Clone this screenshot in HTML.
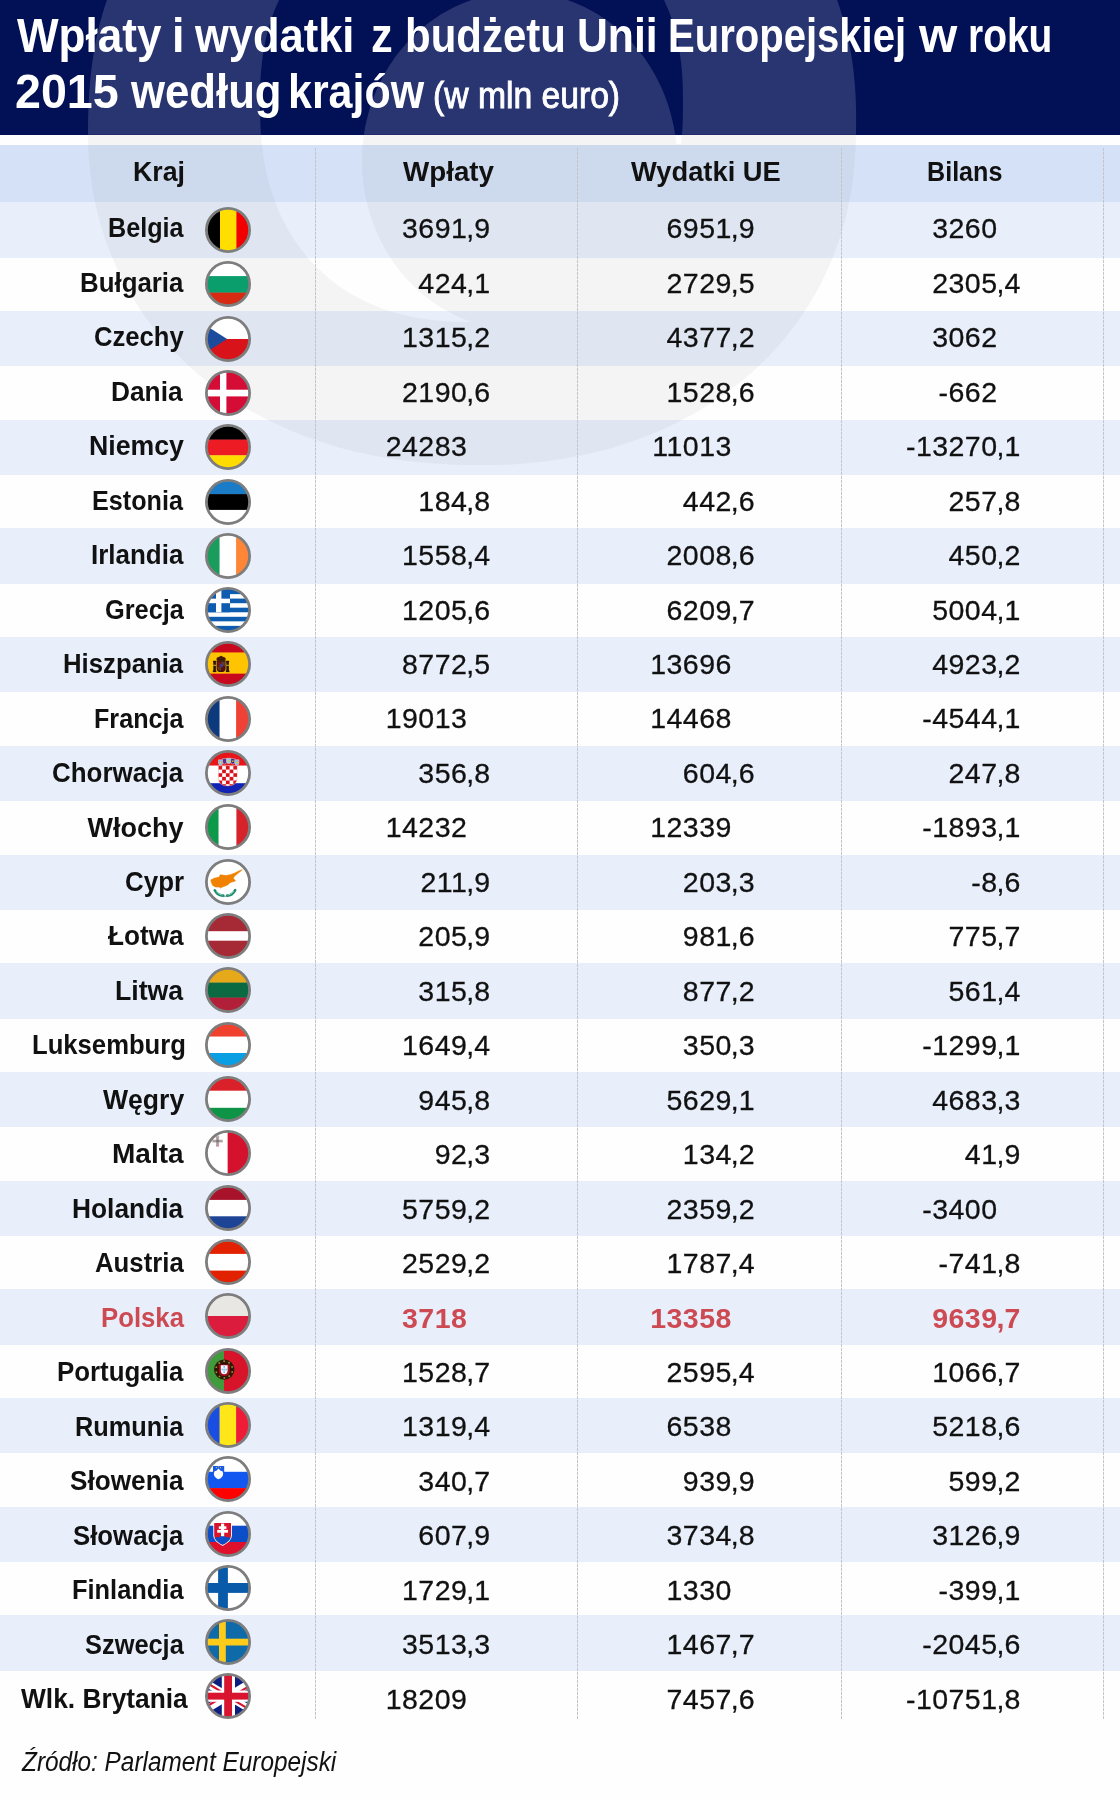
<!DOCTYPE html><html lang="pl"><head><meta charset="utf-8"><title>Wpłaty i wydatki z budżetu UE 2015</title><style>
html,body{margin:0;padding:0;}
body{width:1120px;height:1799px;position:relative;overflow:hidden;background:#fefefe;font-family:"Liberation Sans",sans-serif;color:#111;}
.abs{position:absolute;}
#hdr{left:0;top:0;width:1120px;height:134.7px;background:#021056;}
.t{position:absolute;white-space:nowrap;line-height:1;}
.title{color:#fff;font-weight:700;font-size:44px;left:18px;transform-origin:0 50%;}
.th{font-weight:700;font-size:26.5px;transform-origin:0 50%;}
.nm{font-weight:700;font-size:27px;transform-origin:100% 50%;text-align:right;}
.num{font-size:28.5px;letter-spacing:0.45px;-webkit-text-stroke:0.3px #111;}
.num.pl{-webkit-text-stroke:0;}
.int{text-align:right;transform-origin:100% 50%;}
.dec{text-align:left;letter-spacing:0;margin-left:-0.5px;}
.pl{color:#cd4a53;font-weight:700;}
.row{position:absolute;left:0;width:1120px;}
.vl{position:absolute;width:1px;top:148px;height:1571px;background:repeating-linear-gradient(to bottom,#c4c6cc 0,#c4c6cc 3px,rgba(196,198,204,0.15) 3px,rgba(196,198,204,0.15) 4px);}
.flag{position:absolute;width:46px;height:46px;}
</style></head><body>
<div id="hdr" class="abs"></div>
<div class="row" style="top:144.5px;height:57.8px;background:#d5e1f7"></div>
<div class="row" style="top:202.30px;height:55.40px;background:#e8effb"></div>
<div class="row" style="top:311.00px;height:55.40px;background:#e8effb"></div>
<div class="row" style="top:419.70px;height:55.40px;background:#e8effb"></div>
<div class="row" style="top:528.40px;height:55.40px;background:#e8effb"></div>
<div class="row" style="top:637.10px;height:55.40px;background:#e8effb"></div>
<div class="row" style="top:745.80px;height:55.40px;background:#e8effb"></div>
<div class="row" style="top:854.50px;height:55.40px;background:#e8effb"></div>
<div class="row" style="top:963.20px;height:55.40px;background:#e8effb"></div>
<div class="row" style="top:1071.90px;height:55.40px;background:#e8effb"></div>
<div class="row" style="top:1180.60px;height:55.40px;background:#e8effb"></div>
<div class="row" style="top:1289.30px;height:55.40px;background:#e8effb"></div>
<div class="row" style="top:1398.00px;height:55.40px;background:#e8effb"></div>
<div class="row" style="top:1506.70px;height:55.40px;background:#e8effb"></div>
<div class="row" style="top:1615.40px;height:55.40px;background:#e8effb"></div>
<svg class="abs" style="left:0;top:0" width="1120" height="500" viewBox="0 0 1120 500">
<defs><clipPath id="ch"><rect x="0" y="0" width="1120" height="134.7"/></clipPath><clipPath id="ct"><rect x="0" y="134.7" width="1120" height="370"/></clipPath>
<path id="wm" fill-rule="evenodd" d="M855.9,138.0 L855.5,149.4 L854.8,159.6 L853.9,169.5 L852.8,179.2 L851.5,188.6 L849.9,197.9 L848.1,207.0 L846.0,215.9 L843.7,224.8 L841.2,233.5 L838.4,242.1 L835.4,250.5 L832.2,258.9 L828.7,267.1 L825.0,275.1 L821.1,283.1 L817.0,290.9 L812.6,298.6 L808.0,306.1 L803.2,313.5 L798.2,320.8 L792.9,327.9 L787.5,334.9 L781.8,341.7 L776.0,348.4 L769.9,354.9 L763.7,361.2 L757.2,367.4 L750.6,373.4 L743.7,379.3 L736.7,385.0 L729.5,390.5 L722.1,395.8 L714.6,400.9 L706.9,405.9 L699.0,410.7 L690.9,415.3 L682.7,419.7 L674.3,423.9 L665.8,427.9 L657.1,431.8 L648.3,435.4 L639.3,438.8 L630.2,442.0 L620.9,445.1 L611.6,447.9 L602.0,450.5 L592.4,452.9 L582.6,455.1 L572.7,457.0 L562.7,458.8 L552.5,460.3 L542.2,461.7 L531.7,462.8 L521.1,463.7 L510.3,464.4 L499.2,464.9 L487.9,465.1 L476.2,465.1 L463.2,464.9 L450.3,464.4 L438.6,463.8 L427.3,463.0 L416.3,461.9 L405.6,460.7 L395.0,459.2 L384.6,457.6 L374.4,455.7 L364.3,453.6 L354.3,451.4 L344.5,448.9 L334.9,446.2 L325.4,443.3 L316.0,440.2 L306.8,436.9 L297.7,433.4 L288.8,429.7 L280.0,425.8 L271.4,421.7 L262.9,417.5 L254.6,413.0 L246.4,408.4 L238.5,403.5 L230.7,398.5 L223.0,393.3 L215.6,388.0 L208.3,382.4 L201.2,376.7 L194.3,370.9 L187.6,364.8 L181.1,358.6 L174.7,352.3 L168.6,345.7 L162.7,339.1 L157.0,332.3 L151.5,325.3 L146.2,318.2 L141.1,311.0 L136.2,303.6 L131.6,296.1 L127.2,288.4 L123.0,280.6 L119.0,272.7 L115.3,264.7 L111.8,256.6 L108.5,248.3 L105.5,240.0 L102.7,231.5 L100.1,222.9 L97.8,214.1 L95.7,205.3 L93.9,196.4 L92.3,187.3 L91.0,178.1 L89.9,168.8 L89.0,159.3 L88.4,149.6 L88.1,139.7 L88.0,129.4 L88.1,118.0 L88.6,103.9 L89.3,92.3 L90.1,81.4 L91.2,71.1 L92.5,61.1 L94.0,51.4 L95.7,42.0 L97.7,32.7 L99.8,23.7 L102.2,14.9 L104.8,6.3 L107.7,-2.2 L110.7,-10.5 L114.0,-18.6 L117.4,-26.6 L121.1,-34.4 L125.0,-42.1 L129.2,-49.6 L133.5,-56.9 L138.0,-64.1 L142.8,-71.1 L147.7,-78.0 L152.9,-84.7 L158.2,-91.3 L163.8,-97.7 L169.5,-103.9 L175.5,-110.0 L181.6,-115.9 L187.9,-121.6 L194.5,-127.1 L201.2,-132.5 L208.0,-137.7 L215.1,-142.8 L222.4,-147.6 L229.8,-152.3 L237.4,-156.8 L245.2,-161.1 L253.2,-165.3 L261.3,-169.2 L269.6,-173.0 L278.1,-176.6 L286.7,-179.9 L295.5,-183.1 L304.5,-186.1 L313.6,-188.9 L322.9,-191.5 L332.4,-194.0 L342.1,-196.2 L351.9,-198.2 L361.9,-200.0 L372.2,-201.6 L382.6,-203.1 L393.2,-204.3 L404.1,-205.3 L415.3,-206.1 L426.8,-206.7 L438.7,-207.1 L451.2,-207.3 L464.5,-207.2 L480.7,-206.9 L496.9,-206.4 L510.2,-205.7 L522.7,-204.9 L534.5,-203.9 L546.0,-202.7 L557.1,-201.3 L567.9,-199.7 L578.5,-198.0 L588.8,-196.0 L599.0,-193.9 L608.9,-191.5 L618.6,-189.0 L628.1,-186.3 L637.5,-183.4 L646.6,-180.3 L655.6,-177.0 L664.4,-173.5 L673.1,-169.9 L681.5,-166.1 L689.8,-162.0 L697.9,-157.9 L705.8,-153.5 L713.5,-149.0 L721.1,-144.2 L728.4,-139.3 L735.6,-134.3 L742.6,-129.1 L749.4,-123.7 L756.0,-118.1 L762.4,-112.4 L768.7,-106.5 L774.7,-100.4 L780.5,-94.2 L786.1,-87.9 L791.5,-81.3 L796.7,-74.7 L801.8,-67.8 L806.5,-60.9 L811.1,-53.7 L815.5,-46.5 L819.7,-39.1 L823.6,-31.5 L827.3,-23.8 L830.8,-15.9 L834.1,-7.9 L837.2,0.2 L840.0,8.5 L842.6,16.9 L845.0,25.5 L847.2,34.3 L849.1,43.2 L850.8,52.3 L852.3,61.6 L853.5,71.1 L854.5,80.9 L855.3,90.9 L855.8,101.3 L856.1,112.2 L856.1,123.9Z M683.0,105.0 L682.9,114.1 L682.7,121.7 L682.4,128.7 L682.0,135.5 L681.4,141.9 L680.7,148.2 L679.9,154.4 L679.0,160.4 L677.9,166.2 L676.7,172.0 L675.4,177.6 L674.0,183.2 L672.4,188.6 L670.7,193.9 L668.9,199.1 L667.0,204.3 L665.0,209.3 L662.8,214.2 L660.5,219.0 L658.1,223.8 L655.6,228.4 L653.0,232.9 L650.3,237.4 L647.4,241.7 L644.4,245.9 L641.4,250.1 L638.2,254.1 L634.9,258.0 L631.5,261.8 L628.0,265.5 L624.4,269.1 L620.6,272.6 L616.8,276.0 L612.9,279.3 L608.9,282.4 L604.7,285.5 L600.5,288.4 L596.2,291.2 L591.8,293.9 L587.3,296.5 L582.6,298.9 L577.9,301.3 L573.1,303.5 L568.2,305.6 L563.2,307.6 L558.2,309.4 L553.0,311.1 L547.7,312.7 L542.3,314.2 L536.8,315.6 L531.2,316.8 L525.5,317.9 L519.6,318.8 L513.6,319.7 L507.5,320.4 L501.2,321.0 L494.6,321.4 L487.8,321.7 L480.4,321.9 L471.5,322.0 L462.6,321.9 L455.2,321.7 L448.4,321.4 L441.8,321.0 L435.5,320.4 L429.4,319.7 L423.4,318.8 L417.5,317.9 L411.8,316.8 L406.2,315.6 L400.7,314.2 L395.3,312.7 L390.0,311.1 L384.8,309.4 L379.8,307.6 L374.8,305.6 L369.9,303.5 L365.1,301.3 L360.4,298.9 L355.7,296.5 L351.2,293.9 L346.8,291.2 L342.5,288.4 L338.3,285.5 L334.1,282.4 L330.1,279.3 L326.2,276.0 L322.4,272.6 L318.6,269.1 L315.0,265.5 L311.5,261.8 L308.1,258.0 L304.8,254.1 L301.6,250.1 L298.6,245.9 L295.6,241.7 L292.7,237.4 L290.0,232.9 L287.4,228.4 L284.9,223.8 L282.5,219.0 L280.2,214.2 L278.0,209.3 L276.0,204.3 L274.1,199.1 L272.3,193.9 L270.6,188.6 L269.0,183.2 L267.6,177.6 L266.3,172.0 L265.1,166.2 L264.0,160.4 L263.1,154.4 L262.3,148.2 L261.6,141.9 L261.0,135.5 L260.6,128.7 L260.3,121.7 L260.1,114.1 L260.0,105.0 L260.1,94.8 L260.2,87.0 L260.5,80.0 L260.9,73.3 L261.5,67.1 L262.1,61.0 L262.9,55.2 L263.8,49.5 L264.8,44.0 L265.9,38.6 L267.1,33.4 L268.5,28.3 L270.0,23.3 L271.5,18.5 L273.2,13.7 L275.0,9.0 L277.0,4.5 L279.0,0.0 L281.2,-4.3 L283.4,-8.6 L285.8,-12.7 L288.3,-16.8 L290.9,-20.7 L293.6,-24.6 L296.4,-28.4 L299.3,-32.0 L302.4,-35.6 L305.5,-39.1 L308.8,-42.4 L312.1,-45.7 L315.6,-48.9 L319.1,-52.0 L322.8,-54.9 L326.6,-57.8 L330.5,-60.6 L334.4,-63.2 L338.5,-65.8 L342.7,-68.2 L347.0,-70.6 L351.4,-72.8 L355.9,-75.0 L360.5,-77.0 L365.2,-78.9 L370.0,-80.8 L374.9,-82.5 L380.0,-84.1 L385.1,-85.6 L390.4,-87.0 L395.8,-88.3 L401.3,-89.4 L407.0,-90.5 L412.8,-91.4 L418.8,-92.3 L425.0,-93.0 L431.4,-93.6 L438.0,-94.1 L445.0,-94.5 L452.5,-94.8 L460.7,-94.9 L471.5,-95.0 L482.3,-94.9 L490.5,-94.8 L498.0,-94.5 L505.0,-94.1 L511.6,-93.6 L518.0,-93.0 L524.2,-92.3 L530.2,-91.4 L536.0,-90.5 L541.7,-89.4 L547.2,-88.3 L552.6,-87.0 L557.9,-85.6 L563.0,-84.1 L568.1,-82.5 L573.0,-80.8 L577.8,-78.9 L582.5,-77.0 L587.1,-75.0 L591.6,-72.8 L596.0,-70.6 L600.3,-68.2 L604.5,-65.8 L608.6,-63.2 L612.5,-60.6 L616.4,-57.8 L620.2,-54.9 L623.9,-52.0 L627.4,-48.9 L630.9,-45.7 L634.2,-42.4 L637.5,-39.1 L640.6,-35.6 L643.7,-32.0 L646.6,-28.4 L649.4,-24.6 L652.1,-20.7 L654.7,-16.8 L657.2,-12.7 L659.6,-8.6 L661.8,-4.3 L664.0,0.0 L666.0,4.5 L668.0,9.0 L669.8,13.7 L671.5,18.5 L673.0,23.3 L674.5,28.3 L675.9,33.4 L677.1,38.6 L678.2,44.0 L679.2,49.5 L680.1,55.2 L680.9,61.0 L681.5,67.1 L682.1,73.3 L682.5,80.0 L682.8,87.0 L682.9,94.8Z"/><path id="wd" d="M677.0,161.0 L676.9,165.4 L676.8,169.8 L676.5,174.3 L676.1,178.7 L675.7,183.1 L675.1,187.4 L674.4,191.8 L673.6,196.1 L672.6,200.5 L671.6,204.7 L670.5,209.0 L669.3,213.2 L668.0,217.4 L666.5,221.6 L665.0,225.7 L663.4,229.7 L661.7,233.8 L659.8,237.7 L657.9,241.6 L655.9,245.5 L653.8,249.3 L651.6,253.0 L649.3,256.7 L646.9,260.3 L644.5,263.9 L641.9,267.4 L639.3,270.8 L636.5,274.1 L633.7,277.3 L630.9,280.5 L627.9,283.6 L624.9,286.6 L621.8,289.5 L618.6,292.3 L615.4,295.1 L612.1,297.7 L608.7,300.3 L605.3,302.7 L601.8,305.1 L598.2,307.4 L594.7,309.5 L591.0,311.6 L587.3,313.5 L583.6,315.4 L579.8,317.1 L575.9,318.8 L572.1,320.3 L568.2,321.7 L564.2,323.0 L560.3,324.2 L556.3,325.3 L552.2,326.3 L548.2,327.2 L544.1,327.9 L540.1,328.6 L536.0,329.1 L531.9,329.5 L527.7,329.8 L523.6,329.9 L519.5,330.0 L515.4,329.9 L511.3,329.8 L507.1,329.5 L503.0,329.1 L498.9,328.6 L494.9,327.9 L490.8,327.2 L486.8,326.3 L482.7,325.3 L478.7,324.2 L474.8,323.0 L470.8,321.7 L466.9,320.3 L463.1,318.8 L459.2,317.1 L455.4,315.4 L451.7,313.5 L448.0,311.6 L444.3,309.5 L440.8,307.4 L437.2,305.1 L433.7,302.7 L430.3,300.3 L426.9,297.7 L423.6,295.1 L420.4,292.3 L417.2,289.5 L414.1,286.6 L411.1,283.6 L408.1,280.5 L405.3,277.3 L402.5,274.1 L399.7,270.8 L397.1,267.4 L394.5,263.9 L392.1,260.3 L389.7,256.7 L387.4,253.0 L385.2,249.3 L383.1,245.5 L381.1,241.6 L379.2,237.7 L377.3,233.8 L375.6,229.7 L374.0,225.7 L372.5,221.6 L371.0,217.4 L369.7,213.2 L368.5,209.0 L367.4,204.7 L366.4,200.5 L365.4,196.1 L364.6,191.8 L363.9,187.4 L363.3,183.1 L362.9,178.7 L362.5,174.3 L362.2,169.8 L362.1,165.4 L362.0,161.0 L362.1,156.6 L362.2,152.2 L362.5,147.7 L362.9,143.3 L363.3,138.9 L363.9,134.6 L364.6,130.2 L365.4,125.9 L366.4,121.5 L367.4,117.3 L368.5,113.0 L369.7,108.8 L371.0,104.6 L372.5,100.4 L374.0,96.3 L375.6,92.3 L377.3,88.2 L379.2,84.3 L381.1,80.4 L383.1,76.5 L385.2,72.7 L387.4,69.0 L389.7,65.3 L392.1,61.7 L394.5,58.1 L397.1,54.6 L399.7,51.2 L402.5,47.9 L405.3,44.7 L408.1,41.5 L411.1,38.4 L414.1,35.4 L417.2,32.5 L420.4,29.7 L423.6,26.9 L426.9,24.3 L430.3,21.7 L433.7,19.3 L437.2,16.9 L440.7,14.6 L444.3,12.5 L448.0,10.4 L451.7,8.5 L455.4,6.6 L459.2,4.9 L463.1,3.2 L466.9,1.7 L470.8,0.3 L474.8,-1.0 L478.7,-2.2 L482.7,-3.3 L486.8,-4.3 L490.8,-5.2 L494.9,-5.9 L498.9,-6.6 L503.0,-7.1 L507.1,-7.5 L511.3,-7.8 L515.4,-7.9 L519.5,-8.0 L523.6,-7.9 L527.7,-7.8 L531.9,-7.5 L536.0,-7.1 L540.1,-6.6 L544.1,-5.9 L548.2,-5.2 L552.2,-4.3 L556.3,-3.3 L560.3,-2.2 L564.2,-1.0 L568.2,0.3 L572.1,1.7 L575.9,3.2 L579.8,4.9 L583.6,6.6 L587.3,8.5 L591.0,10.4 L594.7,12.5 L598.2,14.6 L601.8,16.9 L605.3,19.3 L608.7,21.7 L612.1,24.3 L615.4,26.9 L618.6,29.7 L621.8,32.5 L624.9,35.4 L627.9,38.4 L630.9,41.5 L633.7,44.7 L636.5,47.9 L639.3,51.2 L641.9,54.6 L644.5,58.1 L646.9,61.7 L649.3,65.3 L651.6,69.0 L653.8,72.7 L655.9,76.5 L657.9,80.4 L659.8,84.3 L661.7,88.2 L663.4,92.3 L665.0,96.3 L666.5,100.4 L668.0,104.6 L669.3,108.8 L670.5,113.0 L671.6,117.3 L672.6,121.5 L673.6,125.9 L674.4,130.2 L675.1,134.6 L675.7,138.9 L676.1,143.3 L676.5,147.7 L676.8,152.2 L676.9,156.6Z"/>
<mask id="mk"><rect width="1120" height="500" fill="#000"/><use href="#wm" fill="#fff"/><use href="#wd" fill="#fff"/></mask>
<mask id="mk2"><rect width="1120" height="500" fill="#000"/><use href="#wm" fill="#fff"/><use href="#wd" fill="#fff"/><rect x="650" y="144" width="60" height="150" fill="#fff"/></mask></defs>
<g clip-path="url(#ch)"><rect width="1120" height="500" fill="#fff" fill-opacity="0.158" mask="url(#mk)"/></g>
<g clip-path="url(#ct)"><rect width="1120" height="500" fill="#707070" fill-opacity="0.065" mask="url(#mk2)"/></g>
</svg>
<div class="vl" style="left:315px"></div>
<div class="vl" style="left:577px"></div>
<div class="vl" style="left:840.5px"></div>
<div class="vl" style="left:1103px"></div>
<div id="txt" style="position:absolute;left:0;top:0;width:1120px;height:1799px;will-change:transform">
<div class="t" style="left:16.80px;top:10.85px;font-size:49px;font-weight:700;color:#fff;transform-origin:0 50%;transform:scaleX(0.8994)">Wpłaty</div>
<div class="t" style="left:172.26px;top:10.85px;font-size:49px;font-weight:700;color:#fff;transform-origin:0 50%;transform:scaleX(0.9143)">i</div>
<div class="t" style="left:194.60px;top:10.85px;font-size:49px;font-weight:700;color:#fff;transform-origin:0 50%;transform:scaleX(0.8869)">wydatki</div>
<div class="t" style="left:371.43px;top:10.85px;font-size:49px;font-weight:700;color:#fff;transform-origin:0 50%;transform:scaleX(0.8857)">z</div>
<div class="t" style="left:405.33px;top:10.85px;font-size:49px;font-weight:700;color:#fff;transform-origin:0 50%;transform:scaleX(0.8564)">budżetu</div>
<div class="t" style="left:576.68px;top:10.85px;font-size:49px;font-weight:700;color:#fff;transform-origin:0 50%;transform:scaleX(0.8721)">Unii</div>
<div class="t" style="left:667.55px;top:10.85px;font-size:49px;font-weight:700;color:#fff;transform-origin:0 50%;transform:scaleX(0.8172)">Europejskiej</div>
<div class="t" style="left:918.90px;top:10.85px;font-size:49px;font-weight:700;color:#fff;transform-origin:0 50%;transform:scaleX(1.0053)">w</div>
<div class="t" style="left:968.32px;top:10.85px;font-size:49px;font-weight:700;color:#fff;transform-origin:0 50%;transform:scaleX(0.7950)">roku</div>
<div class="t" style="left:15.20px;top:67.35px;font-size:49px;font-weight:700;color:#fff;transform-origin:0 50%;transform:scaleX(0.9509)">2015</div>
<div class="t" style="left:131.40px;top:67.35px;font-size:49px;font-weight:700;color:#fff;transform-origin:0 50%;transform:scaleX(0.8921)">według</div>
<div class="t" style="left:288.37px;top:67.35px;font-size:49px;font-weight:700;color:#fff;transform-origin:0 50%;transform:scaleX(0.8770)">krajów</div>
<div class="t" style="left:433.13px;top:78.40px;font-size:36px;color:#fff;-webkit-text-stroke:0.9px #fff;transform-origin:0 50%;transform:scaleX(0.9352)">(w mln euro)</div>
<div class="t" style="left:132.92px;top:158.55px;font-size:27px;font-weight:700;transform-origin:0 50%;transform:scaleX(0.9898)">Kraj</div>
<div class="t" style="left:403.10px;top:158.55px;font-size:27px;font-weight:700;transform-origin:0 50%;transform:scaleX(1.0284)">Wpłaty</div>
<div class="t" style="left:631.00px;top:158.55px;font-size:27px;font-weight:700;transform-origin:0 50%;transform:scaleX(1.0116)">Wydatki UE</div>
<div class="t" style="left:926.54px;top:158.55px;font-size:27px;font-weight:700;transform-origin:0 50%;transform:scaleX(0.9308)">Bilans</div>
<div class="t" style="left:107.93px;top:215.25px;font-size:27px;font-weight:700;transform-origin:0 50%;transform:scaleX(0.9329)">Belgia</div>
<div class="t" style="left:80.08px;top:269.73px;font-size:27px;font-weight:700;transform-origin:0 50%;transform:scaleX(0.9575)">Bułgaria</div>
<div class="t" style="left:94.35px;top:324.21px;font-size:27px;font-weight:700;transform-origin:0 50%;transform:scaleX(0.9484)">Czechy</div>
<div class="t" style="left:111.45px;top:378.69px;font-size:27px;font-weight:700;transform-origin:0 50%;transform:scaleX(0.9736)">Dania</div>
<div class="t" style="left:88.62px;top:433.17px;font-size:27px;font-weight:700;transform-origin:0 50%;transform:scaleX(0.9883)">Niemcy</div>
<div class="t" style="left:92.14px;top:487.65px;font-size:27px;font-weight:700;transform-origin:0 50%;transform:scaleX(0.9323)">Estonia</div>
<div class="t" style="left:91.18px;top:542.13px;font-size:27px;font-weight:700;transform-origin:0 50%;transform:scaleX(0.9617)">Irlandia</div>
<div class="t" style="left:104.66px;top:596.61px;font-size:27px;font-weight:700;transform-origin:0 50%;transform:scaleX(0.9386)">Grecja</div>
<div class="t" style="left:63.39px;top:651.09px;font-size:27px;font-weight:700;transform-origin:0 50%;transform:scaleX(0.9532)">Hiszpania</div>
<div class="t" style="left:94.04px;top:705.57px;font-size:27px;font-weight:700;transform-origin:0 50%;transform:scaleX(0.9319)">Francja</div>
<div class="t" style="left:51.84px;top:760.05px;font-size:27px;font-weight:700;transform-origin:0 50%;transform:scaleX(0.9610)">Chorwacja</div>
<div class="t" style="left:87.50px;top:814.53px;font-size:27px;font-weight:700;transform-origin:0 50%;transform:scaleX(1.0000)">Włochy</div>
<div class="t" style="left:124.94px;top:869.01px;font-size:27px;font-weight:700;transform-origin:0 50%;transform:scaleX(0.9600)">Cypr</div>
<div class="t" style="left:107.80px;top:923.49px;font-size:27px;font-weight:700;transform-origin:0 50%;transform:scaleX(0.9705)">Łotwa</div>
<div class="t" style="left:115.32px;top:977.97px;font-size:27px;font-weight:700;transform-origin:0 50%;transform:scaleX(0.9881)">Litwa</div>
<div class="t" style="left:31.50px;top:1032.45px;font-size:27px;font-weight:700;transform-origin:0 50%;transform:scaleX(0.9500)">Luksemburg</div>
<div class="t" style="left:102.80px;top:1086.93px;font-size:27px;font-weight:700;transform-origin:0 50%;transform:scaleX(0.9841)">Węgry</div>
<div class="t" style="left:111.93px;top:1141.41px;font-size:27px;font-weight:700;transform-origin:0 50%;transform:scaleX(1.0373)">Malta</div>
<div class="t" style="left:72.35px;top:1195.89px;font-size:27px;font-weight:700;transform-origin:0 50%;transform:scaleX(0.9750)">Holandia</div>
<div class="t" style="left:94.75px;top:1250.37px;font-size:27px;font-weight:700;transform-origin:0 50%;transform:scaleX(0.9543)">Austria</div>
<div class="t" style="left:100.59px;top:1304.85px;font-size:27px;font-weight:700;color:#cd4a53;transform-origin:0 50%;transform:scaleX(0.9529)">Polska</div>
<div class="t" style="left:57.08px;top:1359.33px;font-size:27px;font-weight:700;transform-origin:0 50%;transform:scaleX(0.9577)">Portugalia</div>
<div class="t" style="left:74.62px;top:1413.81px;font-size:27px;font-weight:700;transform-origin:0 50%;transform:scaleX(0.9386)">Rumunia</div>
<div class="t" style="left:70.03px;top:1468.29px;font-size:27px;font-weight:700;transform-origin:0 50%;transform:scaleX(0.9698)">Słowenia</div>
<div class="t" style="left:72.75px;top:1522.77px;font-size:27px;font-weight:700;transform-origin:0 50%;transform:scaleX(0.9548)">Słowacja</div>
<div class="t" style="left:71.52px;top:1577.25px;font-size:27px;font-weight:700;transform-origin:0 50%;transform:scaleX(0.9410)">Finlandia</div>
<div class="t" style="left:84.76px;top:1631.73px;font-size:27px;font-weight:700;transform-origin:0 50%;transform:scaleX(0.9404)">Szwecja</div>
<div class="t" style="left:20.50px;top:1686.21px;font-size:27px;font-weight:700;transform-origin:0 50%;transform:scaleX(0.9749)">Wlk. Brytania</div>
<div class="t" style="left:22.00px;top:1748.55px;font-size:27px;font-style:italic;transform-origin:0 50%;transform:scaleX(0.9026)">Źródło: Parlament Europejski</div>
<div class="flag" style="left:205px;top:206.9px"><svg width="46" height="46" viewBox="0 0 46 46"><defs><clipPath id="c1"><circle cx="23" cy="23" r="21"/></clipPath></defs><g clip-path="url(#c1)"><rect y="0" x="0" height="46" width="15.30" fill="#000"/><rect y="0" x="15" height="46" width="16.70" fill="#ffde00"/><rect y="0" x="31.4" height="46" width="14.90" fill="#f20000"/></g><circle cx="23" cy="23" r="21.6" fill="none" stroke="#7d7d7d" stroke-width="2.8"/></svg></div>
<div class="t num int" style="right:652.75px;top:214.3px">3691</div>
<div class="t num dec" style="left:466.8px;top:214.3px">,9</div>
<div class="t num int" style="right:388.25px;top:214.3px">6951</div>
<div class="t num dec" style="left:731.3px;top:214.3px">,9</div>
<div class="t num int" style="right:122.55px;top:214.3px">3260</div>
<div class="flag" style="left:205px;top:261.2px"><svg width="46" height="46" viewBox="0 0 46 46"><defs><clipPath id="c2"><circle cx="23" cy="23" r="21"/></clipPath></defs><g clip-path="url(#c2)"><rect x="0" y="0" width="46" height="15.40" fill="#fff"/><rect x="0" y="15.1" width="46" height="16.80" fill="#0a9e6c"/><rect x="0" y="31.6" width="46" height="14.70" fill="#d62a12"/></g><circle cx="23" cy="23" r="21.6" fill="none" stroke="#7d7d7d" stroke-width="2.8"/></svg></div>
<div class="t num int" style="right:652.75px;top:268.7px">424</div>
<div class="t num dec" style="left:466.8px;top:268.7px">,1</div>
<div class="t num int" style="right:388.25px;top:268.7px">2729</div>
<div class="t num dec" style="left:731.3px;top:268.7px">,5</div>
<div class="t num int" style="right:122.55px;top:268.7px">2305</div>
<div class="t num dec" style="left:997.0px;top:268.7px">,4</div>
<div class="flag" style="left:205px;top:315.5px"><svg width="46" height="46" viewBox="0 0 46 46"><defs><clipPath id="c3"><circle cx="23" cy="23" r="21"/></clipPath></defs><g clip-path="url(#c3)"><rect x="0" y="0" width="46" height="23.30" fill="#fff"/><rect x="0" y="23" width="46" height="23.30" fill="#d8141a"/><polygon points="0,9 22.1,23 0,37" fill="#1c4a9c"/></g><circle cx="23" cy="23" r="21.6" fill="none" stroke="#7d7d7d" stroke-width="2.8"/></svg></div>
<div class="t num int" style="right:652.75px;top:323.2px">1315</div>
<div class="t num dec" style="left:466.8px;top:323.2px">,2</div>
<div class="t num int" style="right:388.25px;top:323.2px">4377</div>
<div class="t num dec" style="left:731.3px;top:323.2px">,2</div>
<div class="t num int" style="right:122.55px;top:323.2px">3062</div>
<div class="flag" style="left:205px;top:369.8px"><svg width="46" height="46" viewBox="0 0 46 46"><defs><clipPath id="c4"><circle cx="23" cy="23" r="21"/></clipPath></defs><g clip-path="url(#c4)"><rect width="46" height="46" fill="#d50c35"/><rect x="15" y="0" width="6.4" height="46" fill="#fff"/><rect x="0" y="19.7" width="46" height="6.7" fill="#fff"/></g><circle cx="23" cy="23" r="21.6" fill="none" stroke="#7d7d7d" stroke-width="2.8"/></svg></div>
<div class="t num int" style="right:652.75px;top:377.7px">2190</div>
<div class="t num dec" style="left:466.8px;top:377.7px">,6</div>
<div class="t num int" style="right:388.25px;top:377.7px">1528</div>
<div class="t num dec" style="left:731.3px;top:377.7px">,6</div>
<div class="t num int" style="right:122.55px;top:377.7px">-662</div>
<div class="flag" style="left:205px;top:424.2px"><svg width="46" height="46" viewBox="0 0 46 46"><defs><clipPath id="c5"><circle cx="23" cy="23" r="21"/></clipPath></defs><g clip-path="url(#c5)"><rect x="0" y="0" width="46" height="15.90" fill="#000"/><rect x="0" y="15.6" width="46" height="16.00" fill="#ed1c24"/><rect x="0" y="31.3" width="46" height="15.00" fill="#ffdc00"/></g><circle cx="23" cy="23" r="21.6" fill="none" stroke="#7d7d7d" stroke-width="2.8"/></svg></div>
<div class="t num int" style="right:652.75px;top:432.1px">24283</div>
<div class="t num int" style="right:388.25px;top:432.1px">11013</div>
<div class="t num int" style="right:122.55px;top:432.1px">-13270</div>
<div class="t num dec" style="left:997.0px;top:432.1px">,1</div>
<div class="flag" style="left:205px;top:478.5px"><svg width="46" height="46" viewBox="0 0 46 46"><defs><clipPath id="c6"><circle cx="23" cy="23" r="21"/></clipPath></defs><g clip-path="url(#c6)"><rect x="0" y="0" width="46" height="15.40" fill="#1a7cc6"/><rect x="0" y="15.1" width="46" height="16.10" fill="#000"/><rect x="0" y="30.9" width="46" height="15.40" fill="#fff"/></g><circle cx="23" cy="23" r="21.6" fill="none" stroke="#7d7d7d" stroke-width="2.8"/></svg></div>
<div class="t num int" style="right:652.75px;top:486.6px">184</div>
<div class="t num dec" style="left:466.8px;top:486.6px">,8</div>
<div class="t num int" style="right:388.25px;top:486.6px">442</div>
<div class="t num dec" style="left:731.3px;top:486.6px">,6</div>
<div class="t num int" style="right:122.55px;top:486.6px">257</div>
<div class="t num dec" style="left:997.0px;top:486.6px">,8</div>
<div class="flag" style="left:205px;top:532.8px"><svg width="46" height="46" viewBox="0 0 46 46"><defs><clipPath id="c7"><circle cx="23" cy="23" r="21"/></clipPath></defs><g clip-path="url(#c7)"><rect y="0" x="0" height="46" width="14.90" fill="#1a9d5c"/><rect y="0" x="14.6" height="46" width="16.80" fill="#fff"/><rect y="0" x="31.1" height="46" width="15.20" fill="#ff8636"/></g><circle cx="23" cy="23" r="21.6" fill="none" stroke="#7d7d7d" stroke-width="2.8"/></svg></div>
<div class="t num int" style="right:652.75px;top:541.0px">1558</div>
<div class="t num dec" style="left:466.8px;top:541.0px">,4</div>
<div class="t num int" style="right:388.25px;top:541.0px">2008</div>
<div class="t num dec" style="left:731.3px;top:541.0px">,6</div>
<div class="t num int" style="right:122.55px;top:541.0px">450</div>
<div class="t num dec" style="left:997.0px;top:541.0px">,2</div>
<div class="flag" style="left:205px;top:587.1px"><svg width="46" height="46" viewBox="0 0 46 46"><defs><clipPath id="c8"><circle cx="23" cy="23" r="21"/></clipPath></defs><g clip-path="url(#c8)"><rect width="46" height="46" fill="#0d5cb0"/><rect x="0" y="2.60" width="46" height="4.73" fill="#0d5cb0"/><rect x="0" y="7.13" width="46" height="4.73" fill="#fff"/><rect x="0" y="11.67" width="46" height="4.73" fill="#0d5cb0"/><rect x="0" y="16.20" width="46" height="4.73" fill="#fff"/><rect x="0" y="20.73" width="46" height="4.73" fill="#0d5cb0"/><rect x="0" y="25.27" width="46" height="4.73" fill="#fff"/><rect x="0" y="29.80" width="46" height="4.73" fill="#0d5cb0"/><rect x="0" y="34.33" width="46" height="4.73" fill="#fff"/><rect x="0" y="38.87" width="46" height="4.73" fill="#0d5cb0"/><rect x="0" y="0" width="25" height="25.27" fill="#0d5cb0"/><rect x="11" y="0" width="5.4" height="25.27" fill="#fff"/><rect x="0" y="11.67" width="25" height="4.53" fill="#fff"/></g><circle cx="23" cy="23" r="21.6" fill="none" stroke="#7d7d7d" stroke-width="2.8"/></svg></div>
<div class="t num int" style="right:652.75px;top:595.5px">1205</div>
<div class="t num dec" style="left:466.8px;top:595.5px">,6</div>
<div class="t num int" style="right:388.25px;top:595.5px">6209</div>
<div class="t num dec" style="left:731.3px;top:595.5px">,7</div>
<div class="t num int" style="right:122.55px;top:595.5px">5004</div>
<div class="t num dec" style="left:997.0px;top:595.5px">,1</div>
<div class="flag" style="left:205px;top:641.4px"><svg width="46" height="46" viewBox="0 0 46 46"><defs><clipPath id="c9"><circle cx="23" cy="23" r="21"/></clipPath></defs><g clip-path="url(#c9)"><rect x="0" y="0" width="46" height="11.90" fill="#c8081c"/><rect x="0" y="11.6" width="46" height="21.40" fill="#ffc400"/><rect x="0" y="32.7" width="46" height="13.60" fill="#c8081c"/><rect x="0" y="11.3" width="46" height="0.7" fill="#f07a10"/><rect x="0" y="32.3" width="46" height="0.7" fill="#f07a10"/><g transform="translate(0,1.2)"><g fill="#2b1606"><rect x="8.3" y="19.6" width="2.6" height="10" rx="0.6"/><rect x="21.3" y="19.6" width="2.6" height="10" rx="0.6"/><rect x="7.8" y="28.3" width="3.6" height="1.6"/><rect x="20.8" y="28.3" width="3.6" height="1.6"/><rect x="8.0" y="18.6" width="3.2" height="1.4" rx="0.5"/><rect x="21" y="18.6" width="3.2" height="1.4" rx="0.5"/></g><rect x="8.1" y="22.6" width="3" height="1.1" fill="#c9a21a"/><rect x="21.1" y="22.6" width="3" height="1.1" fill="#c9a21a"/><path d="M11.6,18.4 H20.6 V26 Q20.6,29.9 16.1,29.9 Q11.6,29.9 11.6,26 Z" fill="#3a0f0a"/><path d="M12.4,19.2 H16 V24 H12.4Z" fill="#7a1414"/><path d="M16.3,19.2 H19.9 V24 H16.3Z" fill="#5a3a34"/><path d="M12.4,24.3 H16 V28.6 Q12.4,28.4 12.4,25.6Z" fill="#6a3a10"/><path d="M16.3,24.3 H19.9 V25.6 Q19.9,28.4 16.3,28.6Z" fill="#5a1010"/><ellipse cx="16.2" cy="23.6" rx="1.6" ry="2" fill="#3f3a8c"/><path d="M11.8,18.4 Q10.6,15.4 13.4,14.9 Q16.1,13.4 18.8,14.9 Q21.6,15.4 20.4,18.4 Z" fill="#4a1a06"/><rect x="12.6" y="17.2" width="7" height="1.3" fill="#2b1606"/><circle cx="16.1" cy="14.3" r="0.8" fill="#2b1606"/></g></g><circle cx="23" cy="23" r="21.6" fill="none" stroke="#7d7d7d" stroke-width="2.8"/></svg></div>
<div class="t num int" style="right:652.75px;top:650.0px">8772</div>
<div class="t num dec" style="left:466.8px;top:650.0px">,5</div>
<div class="t num int" style="right:388.25px;top:650.0px">13696</div>
<div class="t num int" style="right:122.55px;top:650.0px">4923</div>
<div class="t num dec" style="left:997.0px;top:650.0px">,2</div>
<div class="flag" style="left:205px;top:695.7px"><svg width="46" height="46" viewBox="0 0 46 46"><defs><clipPath id="c10"><circle cx="23" cy="23" r="21"/></clipPath></defs><g clip-path="url(#c10)"><rect y="0" x="0" height="46" width="14.90" fill="#0c3a7c"/><rect y="0" x="14.6" height="46" width="16.80" fill="#fff"/><rect y="0" x="31.1" height="46" width="15.20" fill="#ef4135"/></g><circle cx="23" cy="23" r="21.6" fill="none" stroke="#7d7d7d" stroke-width="2.8"/></svg></div>
<div class="t num int" style="right:652.75px;top:704.4px">19013</div>
<div class="t num int" style="right:388.25px;top:704.4px">14468</div>
<div class="t num int" style="right:122.55px;top:704.4px">-4544</div>
<div class="t num dec" style="left:997.0px;top:704.4px">,1</div>
<div class="flag" style="left:205px;top:750.0px"><svg width="46" height="46" viewBox="0 0 46 46"><defs><clipPath id="c11"><circle cx="23" cy="23" r="21"/></clipPath></defs><g clip-path="url(#c11)"><rect x="0" y="0" width="46" height="15.90" fill="#e8141a"/><rect x="0" y="15.6" width="46" height="17.90" fill="#fff"/><rect x="0" y="33.2" width="46" height="13.10" fill="#1222b4"/><g transform="translate(0,0.6)"><defs><clipPath id="hrs"><path d="M13.4,15.3 H32.1 V27.012 Q32.1,35.43000000000001 22.75,35.43000000000001 Q13.4,35.43000000000001 13.4,27.012 Z"/></clipPath></defs><path d="M13.4,15.3 H32.1 V27.012 Q32.1,35.43000000000001 22.75,35.43000000000001 Q13.4,35.43000000000001 13.4,27.012 Z" fill="#fff"/><g clip-path="url(#hrs)"><rect x="13.40" y="15.30" width="3.74" height="3.66" fill="#d8121c"/><rect x="20.88" y="15.30" width="3.74" height="3.66" fill="#d8121c"/><rect x="28.36" y="15.30" width="3.74" height="3.66" fill="#d8121c"/><rect x="17.14" y="18.96" width="3.74" height="3.66" fill="#d8121c"/><rect x="24.62" y="18.96" width="3.74" height="3.66" fill="#d8121c"/><rect x="13.40" y="22.62" width="3.74" height="3.66" fill="#d8121c"/><rect x="20.88" y="22.62" width="3.74" height="3.66" fill="#d8121c"/><rect x="28.36" y="22.62" width="3.74" height="3.66" fill="#d8121c"/><rect x="17.14" y="26.28" width="3.74" height="3.66" fill="#d8121c"/><rect x="24.62" y="26.28" width="3.74" height="3.66" fill="#d8121c"/><rect x="13.40" y="29.94" width="3.74" height="3.66" fill="#d8121c"/><rect x="20.88" y="29.94" width="3.74" height="3.66" fill="#d8121c"/><rect x="28.36" y="29.94" width="3.74" height="3.66" fill="#d8121c"/><rect x="17.14" y="33.60" width="3.74" height="3.66" fill="#d8121c"/><rect x="24.62" y="33.60" width="3.74" height="3.66" fill="#d8121c"/></g><path d="M13.4,15.3 H32.1 V27.012 Q32.1,35.43000000000001 22.75,35.43000000000001 Q13.4,35.43000000000001 13.4,27.012 Z" fill="none" stroke="#e86a6a" stroke-width="0.35"/><path d="M13.50,9.20 H17.50 V12.60 Q17.50,14.60 15.50,14.60 Q13.50,14.60 13.50,12.60Z" fill="#79bdea" stroke="#f4d8d8" stroke-width="0.5"/><circle cx="15.50" cy="11.80" r="0.9" fill="#e8d23a"/><path d="M17.60,8.00 H21.60 V11.40 Q21.60,13.40 19.60,13.40 Q17.60,13.40 17.60,11.40Z" fill="#4a2f8a" stroke="#f4d8d8" stroke-width="0.5"/><circle cx="19.60" cy="10.60" r="0.9" fill="#7a2a9a"/><path d="M21.70,7.60 H25.70 V11.00 Q25.70,13.00 23.70,13.00 Q21.70,13.00 21.70,11.00Z" fill="#8fd0e8" stroke="#f4d8d8" stroke-width="0.5"/><circle cx="23.70" cy="10.20" r="0.9" fill="#d8e040"/><path d="M25.80,8.00 H29.80 V11.40 Q29.80,13.40 27.80,13.40 Q25.80,13.40 25.80,11.40Z" fill="#2a2a8a" stroke="#f4d8d8" stroke-width="0.5"/><circle cx="27.80" cy="10.60" r="0.9" fill="#e0a020"/><path d="M29.90,9.20 H33.90 V12.60 Q33.90,14.60 31.90,14.60 Q29.90,14.60 29.90,12.60Z" fill="#79bdea" stroke="#f4d8d8" stroke-width="0.5"/><circle cx="31.90" cy="11.80" r="0.9" fill="#e8d23a"/></g></g><circle cx="23" cy="23" r="21.6" fill="none" stroke="#7d7d7d" stroke-width="2.8"/></svg></div>
<div class="t num int" style="right:652.75px;top:758.9px">356</div>
<div class="t num dec" style="left:466.8px;top:758.9px">,8</div>
<div class="t num int" style="right:388.25px;top:758.9px">604</div>
<div class="t num dec" style="left:731.3px;top:758.9px">,6</div>
<div class="t num int" style="right:122.55px;top:758.9px">247</div>
<div class="t num dec" style="left:997.0px;top:758.9px">,8</div>
<div class="flag" style="left:205px;top:804.4px"><svg width="46" height="46" viewBox="0 0 46 46"><defs><clipPath id="c12"><circle cx="23" cy="23" r="21"/></clipPath></defs><g clip-path="url(#c12)"><rect y="0" x="0" height="46" width="13.90" fill="#0c9a4a"/><rect y="0" x="13.6" height="46" width="18.10" fill="#fff"/><rect y="0" x="31.4" height="46" width="14.90" fill="#d6232b"/></g><circle cx="23" cy="23" r="21.6" fill="none" stroke="#7d7d7d" stroke-width="2.8"/></svg></div>
<div class="t num int" style="right:652.75px;top:813.3px">14232</div>
<div class="t num int" style="right:388.25px;top:813.3px">12339</div>
<div class="t num int" style="right:122.55px;top:813.3px">-1893</div>
<div class="t num dec" style="left:997.0px;top:813.3px">,1</div>
<div class="flag" style="left:205px;top:858.7px"><svg width="46" height="46" viewBox="0 0 46 46"><defs><clipPath id="c13"><circle cx="23" cy="23" r="21"/></clipPath></defs><g clip-path="url(#c13)"><rect width="46" height="46" fill="#fff"/><polygon points="5.85,20.9 9.07,19.3 14.4,18.0 15.2,15.8 20.85,16.6 25.1,15.8 29.4,14.2 33.7,12.1 37.2,10.7 35.85,12.1 32.1,15.0 29.4,17.2 28.35,19.3 30.5,22.0 27.8,22.8 25.1,23.6 23,25.7 18.7,27.6 16.0,28.4 15.5,29.2 14.4,28.1 10.7,27.9 7.7,26.5 6.4,23.6" fill="#f08200" stroke="#f08200" stroke-width="0.6" stroke-linejoin="round"/><g fill="none" stroke="#1f8a6c" stroke-linecap="round"><path d="M9.8,31.4 Q12.8,36.6 18.2,36.6" stroke-width="2.6"/><path d="M30.2,31.1 Q27.2,36.6 22.3,36.6" stroke-width="2.6"/><path d="M18,37.1 Q20.3,37.6 22.6,37.1" stroke-width="0.8"/></g><g fill="none" stroke="#8fe0c4" stroke-linecap="round" stroke-width="0.8"><path d="M11.2,32.6 Q13.6,35.8 17.4,36.1"/><path d="M28.8,32.4 Q26.4,35.8 23,36.1"/></g></g><circle cx="23" cy="23" r="21.6" fill="none" stroke="#7d7d7d" stroke-width="2.8"/></svg></div>
<div class="t num int" style="right:652.75px;top:867.8px">211</div>
<div class="t num dec" style="left:466.8px;top:867.8px">,9</div>
<div class="t num int" style="right:388.25px;top:867.8px">203</div>
<div class="t num dec" style="left:731.3px;top:867.8px">,3</div>
<div class="t num int" style="right:122.55px;top:867.8px">-8</div>
<div class="t num dec" style="left:997.0px;top:867.8px">,6</div>
<div class="flag" style="left:205px;top:913.0px"><svg width="46" height="46" viewBox="0 0 46 46"><defs><clipPath id="c14"><circle cx="23" cy="23" r="21"/></clipPath></defs><g clip-path="url(#c14)"><rect x="0" y="0" width="46" height="18.60" fill="#a52a35"/><rect x="0" y="18.3" width="46" height="9.70" fill="#fff"/><rect x="0" y="27.7" width="46" height="18.60" fill="#a52a35"/></g><circle cx="23" cy="23" r="21.6" fill="none" stroke="#7d7d7d" stroke-width="2.8"/></svg></div>
<div class="t num int" style="right:652.75px;top:922.3px">205</div>
<div class="t num dec" style="left:466.8px;top:922.3px">,9</div>
<div class="t num int" style="right:388.25px;top:922.3px">981</div>
<div class="t num dec" style="left:731.3px;top:922.3px">,6</div>
<div class="t num int" style="right:122.55px;top:922.3px">775</div>
<div class="t num dec" style="left:997.0px;top:922.3px">,7</div>
<div class="flag" style="left:205px;top:967.3px"><svg width="46" height="46" viewBox="0 0 46 46"><defs><clipPath id="c15"><circle cx="23" cy="23" r="21"/></clipPath></defs><g clip-path="url(#c15)"><rect x="0" y="0" width="46" height="15.90" fill="#e6a91a"/><rect x="0" y="15.6" width="46" height="15.30" fill="#0b6a42"/><rect x="0" y="30.6" width="46" height="15.70" fill="#b11f38"/></g><circle cx="23" cy="23" r="21.6" fill="none" stroke="#7d7d7d" stroke-width="2.8"/></svg></div>
<div class="t num int" style="right:652.75px;top:976.7px">315</div>
<div class="t num dec" style="left:466.8px;top:976.7px">,8</div>
<div class="t num int" style="right:388.25px;top:976.7px">877</div>
<div class="t num dec" style="left:731.3px;top:976.7px">,2</div>
<div class="t num int" style="right:122.55px;top:976.7px">561</div>
<div class="t num dec" style="left:997.0px;top:976.7px">,4</div>
<div class="flag" style="left:205px;top:1021.6px"><svg width="46" height="46" viewBox="0 0 46 46"><defs><clipPath id="c16"><circle cx="23" cy="23" r="21"/></clipPath></defs><g clip-path="url(#c16)"><rect x="0" y="0" width="46" height="14.90" fill="#f0412f"/><rect x="0" y="14.6" width="46" height="16.70" fill="#fff"/><rect x="0" y="31" width="46" height="15.30" fill="#0a9ee2"/></g><circle cx="23" cy="23" r="21.6" fill="none" stroke="#7d7d7d" stroke-width="2.8"/></svg></div>
<div class="t num int" style="right:652.75px;top:1031.2px">1649</div>
<div class="t num dec" style="left:466.8px;top:1031.2px">,4</div>
<div class="t num int" style="right:388.25px;top:1031.2px">350</div>
<div class="t num dec" style="left:731.3px;top:1031.2px">,3</div>
<div class="t num int" style="right:122.55px;top:1031.2px">-1299</div>
<div class="t num dec" style="left:997.0px;top:1031.2px">,1</div>
<div class="flag" style="left:205px;top:1075.9px"><svg width="46" height="46" viewBox="0 0 46 46"><defs><clipPath id="c17"><circle cx="23" cy="23" r="21"/></clipPath></defs><g clip-path="url(#c17)"><rect x="0" y="0" width="46" height="15.00" fill="#da2129"/><rect x="0" y="14.7" width="46" height="17.40" fill="#fff"/><rect x="0" y="31.8" width="46" height="14.50" fill="#0d9446"/></g><circle cx="23" cy="23" r="21.6" fill="none" stroke="#7d7d7d" stroke-width="2.8"/></svg></div>
<div class="t num int" style="right:652.75px;top:1085.6px">945</div>
<div class="t num dec" style="left:466.8px;top:1085.6px">,8</div>
<div class="t num int" style="right:388.25px;top:1085.6px">5629</div>
<div class="t num dec" style="left:731.3px;top:1085.6px">,1</div>
<div class="t num int" style="right:122.55px;top:1085.6px">4683</div>
<div class="t num dec" style="left:997.0px;top:1085.6px">,3</div>
<div class="flag" style="left:205px;top:1130.3px"><svg width="46" height="46" viewBox="0 0 46 46"><defs><clipPath id="c18"><circle cx="23" cy="23" r="21"/></clipPath></defs><g clip-path="url(#c18)"><rect y="0" x="0" height="46" width="23.00" fill="#fff"/><rect y="0" x="22.7" height="46" width="23.60" fill="#d4122e"/><rect x="22.3" y="0" width="0.7" height="46" fill="#f0a0ac"/><g><rect x="7.2" y="9.7" width="10.7" height="2.8" fill="#c9b4b8"/><rect x="10.95" y="5.8" width="3.2" height="10.7" fill="#c9b4b8"/><rect x="8" y="10.2" width="9" height="1.8" fill="#a9a0a0"/><rect x="11.5" y="6.6" width="2.1" height="9" fill="#a9a0a0"/><circle cx="12.55" cy="11.1" r="1.5" fill="#7d7878"/><rect x="11.2" y="15.2" width="2.7" height="1.2" fill="#d88a96"/><rect x="11.2" y="5.9" width="2.7" height="1.0" fill="#d8a8b0"/></g></g><circle cx="23" cy="23" r="21.6" fill="none" stroke="#7d7d7d" stroke-width="2.8"/></svg></div>
<div class="t num int" style="right:652.75px;top:1140.1px">92</div>
<div class="t num dec" style="left:466.8px;top:1140.1px">,3</div>
<div class="t num int" style="right:388.25px;top:1140.1px">134</div>
<div class="t num dec" style="left:731.3px;top:1140.1px">,2</div>
<div class="t num int" style="right:122.55px;top:1140.1px">41</div>
<div class="t num dec" style="left:997.0px;top:1140.1px">,9</div>
<div class="flag" style="left:205px;top:1184.6px"><svg width="46" height="46" viewBox="0 0 46 46"><defs><clipPath id="c19"><circle cx="23" cy="23" r="21"/></clipPath></defs><g clip-path="url(#c19)"><rect x="0" y="0" width="46" height="15.20" fill="#a8122a"/><rect x="0" y="14.9" width="46" height="16.70" fill="#fff"/><rect x="0" y="31.3" width="46" height="15.00" fill="#1e4496"/></g><circle cx="23" cy="23" r="21.6" fill="none" stroke="#7d7d7d" stroke-width="2.8"/></svg></div>
<div class="t num int" style="right:652.75px;top:1194.6px">5759</div>
<div class="t num dec" style="left:466.8px;top:1194.6px">,2</div>
<div class="t num int" style="right:388.25px;top:1194.6px">2359</div>
<div class="t num dec" style="left:731.3px;top:1194.6px">,2</div>
<div class="t num int" style="right:122.55px;top:1194.6px">-3400</div>
<div class="flag" style="left:205px;top:1238.9px"><svg width="46" height="46" viewBox="0 0 46 46"><defs><clipPath id="c20"><circle cx="23" cy="23" r="21"/></clipPath></defs><g clip-path="url(#c20)"><rect x="0" y="0" width="46" height="15.20" fill="#e22100"/><rect x="0" y="14.9" width="46" height="17.00" fill="#fff"/><rect x="0" y="31.6" width="46" height="14.70" fill="#e22100"/></g><circle cx="23" cy="23" r="21.6" fill="none" stroke="#7d7d7d" stroke-width="2.8"/></svg></div>
<div class="t num int" style="right:652.75px;top:1249.0px">2529</div>
<div class="t num dec" style="left:466.8px;top:1249.0px">,2</div>
<div class="t num int" style="right:388.25px;top:1249.0px">1787</div>
<div class="t num dec" style="left:731.3px;top:1249.0px">,4</div>
<div class="t num int" style="right:122.55px;top:1249.0px">-741</div>
<div class="t num dec" style="left:997.0px;top:1249.0px">,8</div>
<div class="flag" style="left:205px;top:1293.2px"><svg width="46" height="46" viewBox="0 0 46 46"><defs><clipPath id="c21"><circle cx="23" cy="23" r="21"/></clipPath></defs><g clip-path="url(#c21)"><rect x="0" y="0" width="46" height="23.30" fill="#e8e7e3"/><rect x="0" y="23" width="46" height="23.30" fill="#dc1c3d"/></g><circle cx="23" cy="23" r="21.6" fill="none" stroke="#7d7d7d" stroke-width="2.8"/></svg></div>
<div class="t num int pl" style="right:652.75px;top:1303.5px">3718</div>
<div class="t num int pl" style="right:388.25px;top:1303.5px">13358</div>
<div class="t num int pl" style="right:122.55px;top:1303.5px">9639</div>
<div class="t num dec pl" style="left:997.0px;top:1303.5px">,7</div>
<div class="flag" style="left:205px;top:1347.5px"><svg width="46" height="46" viewBox="0 0 46 46"><defs><clipPath id="c22"><circle cx="23" cy="23" r="21"/></clipPath></defs><g clip-path="url(#c22)"><rect y="0" x="0" height="46" width="19.30" fill="#3f9b3c"/><rect y="0" x="19" height="46" width="27.30" fill="#d8142b"/><circle cx="19.25" cy="21.6" r="10.2" fill="#2a1a06"/><circle cx="27.18" cy="24.05" r="0.95" fill="#a8861a"/><circle cx="24.22" cy="28.25" r="0.95" fill="#a8861a"/><circle cx="19.37" cy="29.90" r="0.95" fill="#a8861a"/><circle cx="14.47" cy="28.38" r="0.95" fill="#a8861a"/><circle cx="11.39" cy="24.28" r="0.95" fill="#a8861a"/><circle cx="11.32" cy="19.15" r="0.95" fill="#a8861a"/><circle cx="14.28" cy="14.95" r="0.95" fill="#a8861a"/><circle cx="19.13" cy="13.30" r="0.95" fill="#a8861a"/><circle cx="24.03" cy="14.82" r="0.95" fill="#a8861a"/><circle cx="27.11" cy="18.92" r="0.95" fill="#a8861a"/><circle cx="19.25" cy="21.6" r="6.6" fill="#2a0a08"/><path d="M13.6,16.4 H24.9 V23 Q24.9,28 19.25,28 Q13.6,28 13.6,23Z" fill="#a30f1c"/><path d="M15.8,17.3 H22.6 V22.6 Q22.6,26.2 19.2,26.2 Q15.8,26.2 15.8,22.6Z" fill="#fff"/><g fill="#8ac4ea"><rect x="18.3" y="18" width="1.9" height="1.9"/><rect x="16.5" y="20.6" width="1.7" height="1.9"/><rect x="18.3" y="20.6" width="1.9" height="1.9"/><rect x="20.3" y="20.6" width="1.7" height="1.9"/><rect x="18.3" y="23.2" width="1.9" height="1.9"/></g></g><circle cx="23" cy="23" r="21.6" fill="none" stroke="#7d7d7d" stroke-width="2.8"/></svg></div>
<div class="t num int" style="right:652.75px;top:1357.9px">1528</div>
<div class="t num dec" style="left:466.8px;top:1357.9px">,7</div>
<div class="t num int" style="right:388.25px;top:1357.9px">2595</div>
<div class="t num dec" style="left:731.3px;top:1357.9px">,4</div>
<div class="t num int" style="right:122.55px;top:1357.9px">1066</div>
<div class="t num dec" style="left:997.0px;top:1357.9px">,7</div>
<div class="flag" style="left:205px;top:1401.8px"><svg width="46" height="46" viewBox="0 0 46 46"><defs><clipPath id="c23"><circle cx="23" cy="23" r="21"/></clipPath></defs><g clip-path="url(#c23)"><rect y="0" x="0" height="46" width="14.90" fill="#1a4ee2"/><rect y="0" x="14.6" height="46" width="16.80" fill="#ffe618"/><rect y="0" x="31.1" height="46" width="15.20" fill="#f01c37"/></g><circle cx="23" cy="23" r="21.6" fill="none" stroke="#7d7d7d" stroke-width="2.8"/></svg></div>
<div class="t num int" style="right:652.75px;top:1412.4px">1319</div>
<div class="t num dec" style="left:466.8px;top:1412.4px">,4</div>
<div class="t num int" style="right:388.25px;top:1412.4px">6538</div>
<div class="t num int" style="right:122.55px;top:1412.4px">5218</div>
<div class="t num dec" style="left:997.0px;top:1412.4px">,6</div>
<div class="flag" style="left:205px;top:1456.1px"><svg width="46" height="46" viewBox="0 0 46 46"><defs><clipPath id="c24"><circle cx="23" cy="23" r="21"/></clipPath></defs><g clip-path="url(#c24)"><rect x="0" y="0" width="46" height="16.10" fill="#fff"/><rect x="0" y="15.8" width="46" height="16.60" fill="#1258f0"/><rect x="0" y="32.1" width="46" height="14.20" fill="#ff0000"/><path d="M8,9.9 H19.2 V17.5 Q19.2,22 13.6,23.4 Q8,22 8,17.5Z" fill="#1a5ae6"/><path d="M8.9,17.2 Q9,14.8 11.4,14.8 L13.5,12.6 L15.6,14.8 Q18,14.8 18.1,17.2 Q18.4,21.4 13.5,23.3 Q8.6,21.4 8.9,17.2Z" fill="#fff"/><g fill="#e8d84a"><circle cx="11.7" cy="11.6" r="0.55"/><circle cx="15.5" cy="11.6" r="0.55"/><circle cx="13.6" cy="10.7" r="0.55"/></g></g><circle cx="23" cy="23" r="21.6" fill="none" stroke="#7d7d7d" stroke-width="2.8"/></svg></div>
<div class="t num int" style="right:652.75px;top:1466.9px">340</div>
<div class="t num dec" style="left:466.8px;top:1466.9px">,7</div>
<div class="t num int" style="right:388.25px;top:1466.9px">939</div>
<div class="t num dec" style="left:731.3px;top:1466.9px">,9</div>
<div class="t num int" style="right:122.55px;top:1466.9px">599</div>
<div class="t num dec" style="left:997.0px;top:1466.9px">,2</div>
<div class="flag" style="left:205px;top:1510.5px"><svg width="46" height="46" viewBox="0 0 46 46"><defs><clipPath id="c25"><circle cx="23" cy="23" r="21"/></clipPath></defs><g clip-path="url(#c25)"><rect x="0" y="0" width="46" height="15.00" fill="#fff"/><rect x="0" y="14.7" width="46" height="16.60" fill="#0b4ec8"/><rect x="0" y="31" width="46" height="15.30" fill="#de102b"/><path d="M8.3,11.2 H26.9 V24.6 Q26.9,30.4 17.6,34.9 Q8.3,30.4 8.3,24.6Z" fill="#fff"/><defs><clipPath id="svk"><path d="M9.2,12.1 H26 V24.5 Q26,29.8 17.6,33.8 Q9.2,29.8 9.2,24.5Z"/></clipPath></defs><g clip-path="url(#svk)"><rect x="8" y="11" width="20" height="24" fill="#d8142b"/><path d="M8,29 Q11,24.6 14.2,26.6 Q17.6,22.6 21,26.6 Q24.2,24.6 27,29 V36 H8Z" fill="#0b4ec8"/></g><g fill="#fff"><rect x="16" y="12.6" width="3.2" height="12.6"/><rect x="13.8" y="15.3" width="7.6" height="2.6"/><rect x="12.2" y="18.9" width="10.8" height="2.8"/></g></g><circle cx="23" cy="23" r="21.6" fill="none" stroke="#7d7d7d" stroke-width="2.8"/></svg></div>
<div class="t num int" style="right:652.75px;top:1521.3px">607</div>
<div class="t num dec" style="left:466.8px;top:1521.3px">,9</div>
<div class="t num int" style="right:388.25px;top:1521.3px">3734</div>
<div class="t num dec" style="left:731.3px;top:1521.3px">,8</div>
<div class="t num int" style="right:122.55px;top:1521.3px">3126</div>
<div class="t num dec" style="left:997.0px;top:1521.3px">,9</div>
<div class="flag" style="left:205px;top:1564.8px"><svg width="46" height="46" viewBox="0 0 46 46"><defs><clipPath id="c26"><circle cx="23" cy="23" r="21"/></clipPath></defs><g clip-path="url(#c26)"><rect width="46" height="46" fill="#fff"/><rect x="13.1" y="0" width="9.8" height="46" fill="#0a5aaa"/><rect x="0" y="18" width="46" height="9.9" fill="#0a5aaa"/></g><circle cx="23" cy="23" r="21.6" fill="none" stroke="#7d7d7d" stroke-width="2.8"/></svg></div>
<div class="t num int" style="right:652.75px;top:1575.8px">1729</div>
<div class="t num dec" style="left:466.8px;top:1575.8px">,1</div>
<div class="t num int" style="right:388.25px;top:1575.8px">1330</div>
<div class="t num int" style="right:122.55px;top:1575.8px">-399</div>
<div class="t num dec" style="left:997.0px;top:1575.8px">,1</div>
<div class="flag" style="left:205px;top:1619.1px"><svg width="46" height="46" viewBox="0 0 46 46"><defs><clipPath id="c27"><circle cx="23" cy="23" r="21"/></clipPath></defs><g clip-path="url(#c27)"><rect width="46" height="46" fill="#0f6aaa"/><rect x="14" y="0" width="6.8" height="46" fill="#fecc18"/><rect x="0" y="19.7" width="46" height="6.8" fill="#fecc18"/></g><circle cx="23" cy="23" r="21.6" fill="none" stroke="#7d7d7d" stroke-width="2.8"/></svg></div>
<div class="t num int" style="right:652.75px;top:1630.2px">3513</div>
<div class="t num dec" style="left:466.8px;top:1630.2px">,3</div>
<div class="t num int" style="right:388.25px;top:1630.2px">1467</div>
<div class="t num dec" style="left:731.3px;top:1630.2px">,7</div>
<div class="t num int" style="right:122.55px;top:1630.2px">-2045</div>
<div class="t num dec" style="left:997.0px;top:1630.2px">,6</div>
<div class="flag" style="left:205px;top:1673.4px"><svg width="46" height="46" viewBox="0 0 46 46"><defs><clipPath id="c28"><circle cx="23" cy="23" r="21"/></clipPath></defs><g clip-path="url(#c28)"><rect width="46" height="46" fill="#0c1f80"/><path d="M-6.899999999999999,5.199999999999999 L53.1,41.2 M53.1,5.199999999999999 L-6.899999999999999,41.2" stroke="#fff" stroke-width="7.4" fill="none"/><path d="M23.31,22.86 L-6.69,4.86 M24.28,25.17 L54.28,7.17 M21.92,21.23 L-8.08,39.23 M22.89,23.54 L52.89,41.54" stroke="#d8142e" stroke-width="2.1" fill="none"/><rect x="16.8" y="0" width="13.2" height="46" fill="#fff"/><rect x="0" y="17.5" width="46" height="11.3" fill="#fff"/><rect x="19.2" y="0" width="7.8" height="46" fill="#d8142e"/><rect x="0" y="19.7" width="46" height="6.9" fill="#d8142e"/></g><circle cx="23" cy="23" r="21.6" fill="none" stroke="#7d7d7d" stroke-width="2.8"/></svg></div>
<div class="t num int" style="right:652.75px;top:1684.7px">18209</div>
<div class="t num int" style="right:388.25px;top:1684.7px">7457</div>
<div class="t num dec" style="left:731.3px;top:1684.7px">,6</div>
<div class="t num int" style="right:122.55px;top:1684.7px">-10751</div>
<div class="t num dec" style="left:997.0px;top:1684.7px">,8</div>
</div>
</body></html>
